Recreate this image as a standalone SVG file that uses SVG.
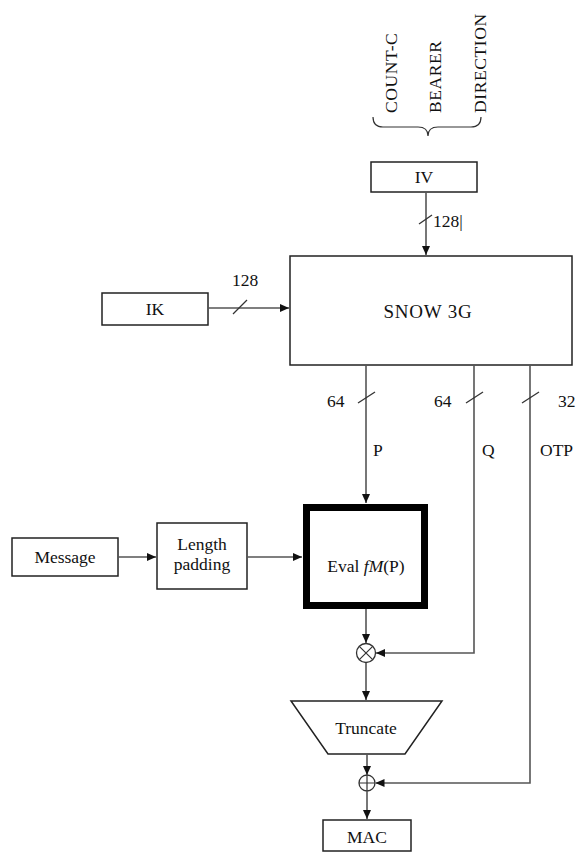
<svg xmlns="http://www.w3.org/2000/svg" width="579" height="853" viewBox="0 0 579 853">
<style>
text{font-family:"Liberation Serif","DejaVu Serif",serif;font-size:17.5px;fill:#111}
.vt{letter-spacing:0.6px}
.box{fill:#fff;stroke:#222;stroke-width:1.5}
.ln{fill:none;stroke:#555;stroke-width:1.6}
.sl{stroke:#333;stroke-width:1.3}
.mid{text-anchor:middle}
</style>
<defs>
<marker id="ah" markerWidth="9" markerHeight="8" refX="9" refY="4" orient="auto" markerUnits="userSpaceOnUse">
<path d="M0,0 L9,4 L0,8 Z" fill="#111"/>
</marker>
</defs>
<rect width="579" height="853" fill="#fff"/>

<g id="inputs">
<text class="vt" transform="translate(397,113) rotate(-90)">COUNT-C</text>
<text class="vt" transform="translate(441,113) rotate(-90)">BEARER</text>
<text class="vt" transform="translate(486,113) rotate(-90)">DIRECTION</text>
<path d="M373,117 Q373,127 383,127 L418,127 Q428,127 428,136 Q428,127 438,127 L471,127 Q481,127 481,117" fill="none" stroke="#333" stroke-width="1.2"/>
</g>

<g id="iv"><rect class="box" x="371" y="162" width="106" height="30"/><text class="mid" x="424" y="183">IV</text></g>
<g id="snow"><rect class="box" x="290" y="256" width="282" height="109"/><text class="mid" x="428" y="318" style="font-size:19px;letter-spacing:0.8px">SNOW 3G</text></g>
<g id="ik"><rect class="box" x="102" y="293" width="106" height="32"/><text class="mid" x="155" y="315">IK</text></g>
<g id="message"><rect class="box" x="12" y="538" width="106" height="38"/><text class="mid" x="65" y="563">Message</text></g>
<g id="padding"><rect class="box" x="157" y="523" width="90" height="66"/><text class="mid" x="202" y="550">Length</text><text class="mid" x="202" y="570">padding</text></g>
<g id="eval"><rect x="306.5" y="507.5" width="118" height="98" fill="#fff" stroke="#000" stroke-width="7"/><text class="mid" x="366" y="572">Eval <tspan font-style="italic">fM</tspan>(P)</text></g>
<g id="mult"><circle cx="366" cy="653" r="9.5" fill="#fff" stroke="#333" stroke-width="1.3"/><path d="M359.3,646.3 L372.7,659.7 M372.7,646.3 L359.3,659.7" stroke="#333" stroke-width="1.2"/></g>
<g id="truncate"><path d="M291,701 L442,701 L405,754 L328,754 Z" class="box"/><text class="mid" x="366" y="734">Truncate</text></g>
<g id="xor"><circle cx="367" cy="783" r="8" fill="#fff" stroke="#333" stroke-width="1.3"/><path d="M359,783 H375 M367,775 V791" stroke="#333" stroke-width="1.2"/></g>
<g id="mac"><rect class="box" x="323" y="820" width="88" height="31"/><text class="mid" x="367" y="843">MAC</text></g>

<g id="connectors">
<line class="ln" x1="426" y1="192" x2="426" y2="255" marker-end="url(#ah)"/>
<line class="sl" x1="419" y1="224" x2="432" y2="215"/>
<text x="433" y="227">128|</text>
<line class="ln" x1="208" y1="308" x2="289" y2="308" marker-end="url(#ah)"/>
<line class="sl" x1="233" y1="314" x2="247" y2="300"/>
<text x="232" y="286">128</text>
<line class="ln" x1="366" y1="365" x2="366" y2="503" marker-end="url(#ah)"/>
<line class="sl" x1="358" y1="403" x2="375" y2="392"/>
<text x="327" y="407">64</text>
<text x="373" y="456">P</text>
<polyline class="ln" points="474,365 474,653 376,653" marker-end="url(#ah)"/>
<line class="sl" x1="466" y1="403" x2="483" y2="392"/>
<text x="434" y="407">64</text>
<text x="482" y="456">Q</text>
<polyline class="ln" points="530,365 530,783 375.5,783" marker-end="url(#ah)"/>
<line class="sl" x1="522" y1="403" x2="539" y2="392"/>
<text x="558" y="407">32</text>
<text x="540" y="456">OTP</text>
<line class="ln" x1="118" y1="557" x2="156" y2="557" marker-end="url(#ah)"/>
<line class="ln" x1="247" y1="557" x2="302" y2="557" marker-end="url(#ah)"/>
<line class="ln" x1="366" y1="609" x2="366" y2="643" marker-end="url(#ah)"/>
<line class="ln" x1="366" y1="663" x2="366" y2="700" marker-end="url(#ah)"/>
<line class="ln" x1="367" y1="754" x2="367" y2="775" marker-end="url(#ah)"/>
<line class="ln" x1="367" y1="791" x2="367" y2="819" marker-end="url(#ah)"/>
</g>
</svg>
